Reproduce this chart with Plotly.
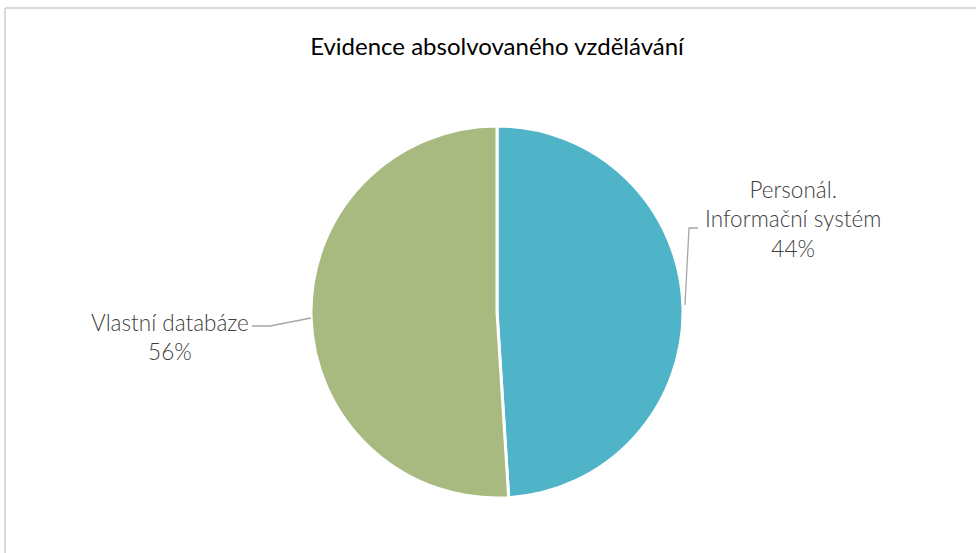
import plotly.graph_objects as go

W, H = 976, 553

title = "Evidence absolvovaného vzdělávání"
categories = ["Personál.<br>Informační systém", "Vlastní databáze"]
values = [49, 51]              # slice sizes as drawn
pct_labels = ["44%", "56%"]    # percentage labels as printed
colors = ["#50B4C8", "#A8BA80"]

# pie geometry (pixels)
cx, cy, r = 497, 312, 186

fig = go.Figure(go.Pie(
    labels=categories,
    values=values,
    sort=False,
    direction="clockwise",
    rotation=0,
    marker=dict(colors=colors, line=dict(color="white", width=3)),
    textinfo="none",
    hoverinfo="label+percent",
    showlegend=False,
    domain=dict(x=[(cx - r) / W, (cx + r) / W], y=[1 - (cy + r) / H, 1 - (cy - r) / H]),
))

def px(x):
    return x / W

def py(y):
    return 1 - y / H

label_font = dict(family="Lato, Open Sans, sans-serif", size=22.5, color="#404040", weight=300)

fig.add_annotation(x=px(793), y=py(219), xref="paper", yref="paper",
                   text=f"{categories[0]}<br>{pct_labels[0]}", showarrow=False,
                   font=label_font, align="center", xanchor="center", yanchor="middle")
fig.add_annotation(x=px(170), y=py(337), xref="paper", yref="paper",
                   text=f"{categories[1]}<br>{pct_labels[1]}", showarrow=False,
                   font=label_font, align="center", xanchor="center", yanchor="middle")

lc = dict(color="#A6A6A6", width=1.3)
fig.add_shape(type="path", xref="paper", yref="paper",
              path=f"M {px(685)} {py(305)} L {px(689)} {py(228)} L {px(698)} {py(228)}", line=lc)
fig.add_shape(type="path", xref="paper", yref="paper",
              path=f"M {px(311)} {py(318)} L {px(270)} {py(326)} L {px(252)} {py(326)}", line=lc)

# chart-area border
bc = dict(color="#D9D9D9", width=2)
fig.add_shape(type="line", xref="paper", yref="paper", x0=px(5), x1=1.01, y0=py(8), y1=py(8), line=bc)
fig.add_shape(type="line", xref="paper", yref="paper", x0=px(5), x1=px(5), y0=py(8), y1=-0.01, line=bc)

fig.update_layout(
    width=W, height=H,
    margin=dict(l=0, r=0, t=0, b=0),
    paper_bgcolor="white",
    plot_bgcolor="white",
    title=dict(text=title, x=px(497), y=py(47), xanchor="center", yanchor="middle",
               font=dict(family="Lato, Open Sans, sans-serif", size=24, color="#000000")),
)

fig.write_html("out.html", config={"displayModeBar": False})

# remove the default page margin so the figure sits at the window origin
with open("out.html", encoding="utf-8") as f:
    html = f.read()
html = html.replace("<head>", "<head><style>html,body{margin:0;padding:0;overflow:hidden;}</style>", 1)
with open("out.html", "w", encoding="utf-8") as f:
    f.write(html)
